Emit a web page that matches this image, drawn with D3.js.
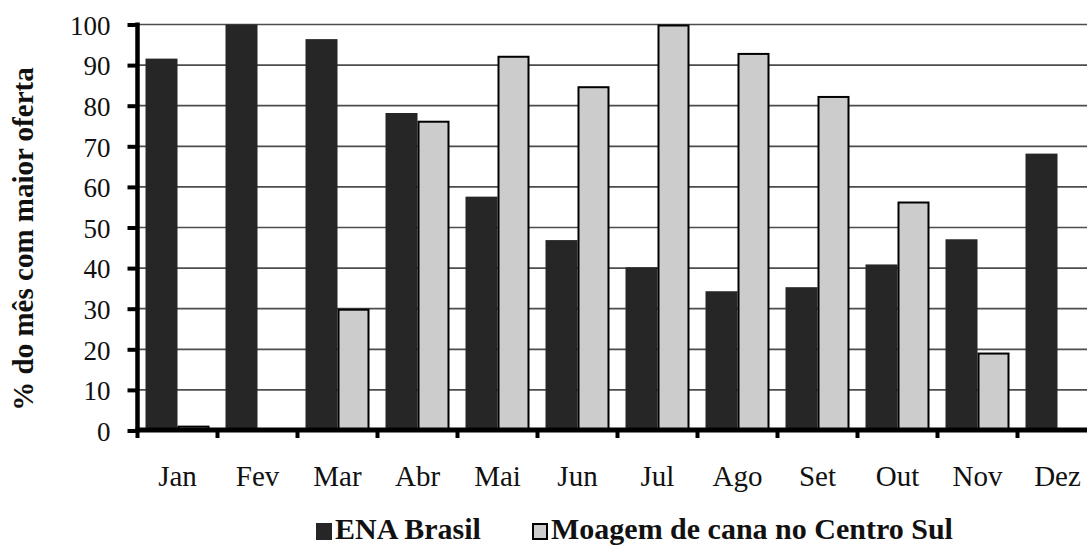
<!DOCTYPE html>
<html>
<head>
<meta charset="utf-8">
<script src="https://cdn.jsdelivr.net/npm/d3@7"></script>
<style>
  html, body { margin: 0; padding: 0; background: #fff; }
  svg { display: block; }
  text { font-family: "Liberation Serif", "Times New Roman", serif; fill: #111; }
</style>
</head>
<body>
<script>
const months = ["Jan", "Fev", "Mar", "Abr", "Mai", "Jun", "Jul", "Ago", "Set", "Out", "Nov", "Dez"];
const seriesNames = ["ENA Brasil", "Moagem de cana no Centro Sul"];
const enaBrasil = [91.6, 100, 96.4, 78.2, 57.6, 46.9, 40.2, 34.3, 35.3, 40.9, 47.1, 68.2];
const moagem = [1.2, 0, 30, 76.3, 92.3, 84.8, 100, 93.0, 82.4, 56.4, 19.2, 0];
const yTicks = [0, 10, 20, 30, 40, 50, 60, 70, 80, 90, 100];
const yTitle = "% do mês com maior oferta";

const W = 1087, H = 547;
const svg = d3.select("body").append("svg").attr("width", W).attr("height", H);

const x0 = 137.5, bandW = 80;
const x = d3.scaleBand().domain(months).range([x0, x0 + bandW * months.length]).paddingInner(0).paddingOuter(0);
const xs = d3.scaleBand().domain(seriesNames).range([0, x.bandwidth()]).paddingInner(0).paddingOuter(0.25);
const y = d3.scaleLinear().domain([0, 100]).range([430.5, 24.5]);

// grid
svg.append("g").selectAll("line").data(yTicks.filter(d => d > 0)).join("line")
  .attr("x1", x0).attr("x2", W).attr("y1", d => y(d)).attr("y2", d => y(d))
  .attr("stroke", "#4d4d4d").attr("stroke-width", 1.7);

const colors = ["#262626", "#cccccc"];
const data = months.map((m, i) => ({ m, vals: [enaBrasil[i], moagem[i]] }));

const g = svg.append("g");
data.forEach(d => {
  g.append("rect")
    .attr("x", x(d.m) + xs(seriesNames[0]))
    .attr("width", xs.bandwidth())
    .attr("y", y(d.vals[0]))
    .attr("height", y(0) - y(d.vals[0]))
    .attr("fill", colors[0]);
  if (d.vals[1] > 0) {
    g.append("rect")
      .attr("x", x(d.m) + xs(seriesNames[1]) + 1)
      .attr("width", xs.bandwidth() - 2)
      .attr("y", y(d.vals[1]) + 1)
      .attr("height", y(0) - y(d.vals[1]) - 1)
      .attr("fill", colors[1])
      .attr("stroke", "#000").attr("stroke-width", 2);
  }
});

// y axis
const yAxis = svg.append("g").attr("transform", `translate(${x0},0)`)
  .call(d3.axisLeft(y).tickValues(yTicks).tickSize(10).tickPadding(17).tickFormat(d3.format("d")));
yAxis.attr("font-family", null);
yAxis.select(".domain").attr("stroke", "#000").attr("stroke-width", 4.5).attr("d", `M0,${y(100)-2}V${y(0)+2}`);
yAxis.selectAll(".tick line").attr("stroke", "#000").attr("stroke-width", 4);
yAxis.selectAll(".tick text").attr("font-size", 27).attr("fill", "#111").attr("dy", "0.36em");

// x axis
const baseY = 430;
svg.append("line").attr("x1", x0 - 2).attr("x2", W).attr("y1", baseY).attr("y2", baseY)
  .attr("stroke", "#000").attr("stroke-width", 5);
svg.append("g").selectAll("line").data(months).join("line")
  .attr("x1", d => x(d)).attr("x2", d => x(d))
  .attr("y1", baseY).attr("y2", baseY + 8)
  .attr("stroke", "#000").attr("stroke-width", 4);
svg.append("g").selectAll("text").data(months).join("text")
  .attr("x", d => x(d) + x.bandwidth() / 2)
  .attr("y", 486)
  .attr("text-anchor", "middle")
  .attr("font-size", 29)
  .text(d => d);

// y title
svg.append("text")
  .attr("transform", `translate(33,239) rotate(-90)`)
  .attr("text-anchor", "middle")
  .attr("font-size", 29)
  .attr("font-weight", "bold")
  .text(yTitle);

// legend
const ly = 539;
const leg = svg.append("g");
leg.append("rect").attr("x", 316).attr("y", ly - 16).attr("width", 16).attr("height", 17).attr("fill", colors[0]);
leg.append("text").attr("x", 335).attr("y", ly).attr("font-size", 30).attr("font-weight", "bold").text(seriesNames[0]);
leg.append("rect").attr("x", 533).attr("y", ly - 15).attr("width", 14).attr("height", 15).attr("fill", colors[1])
  .attr("stroke", "#000").attr("stroke-width", 2);
leg.append("text").attr("x", 551).attr("y", ly).attr("font-size", 30).attr("font-weight", "bold").text(seriesNames[1]);
</script>
</body>
</html>
